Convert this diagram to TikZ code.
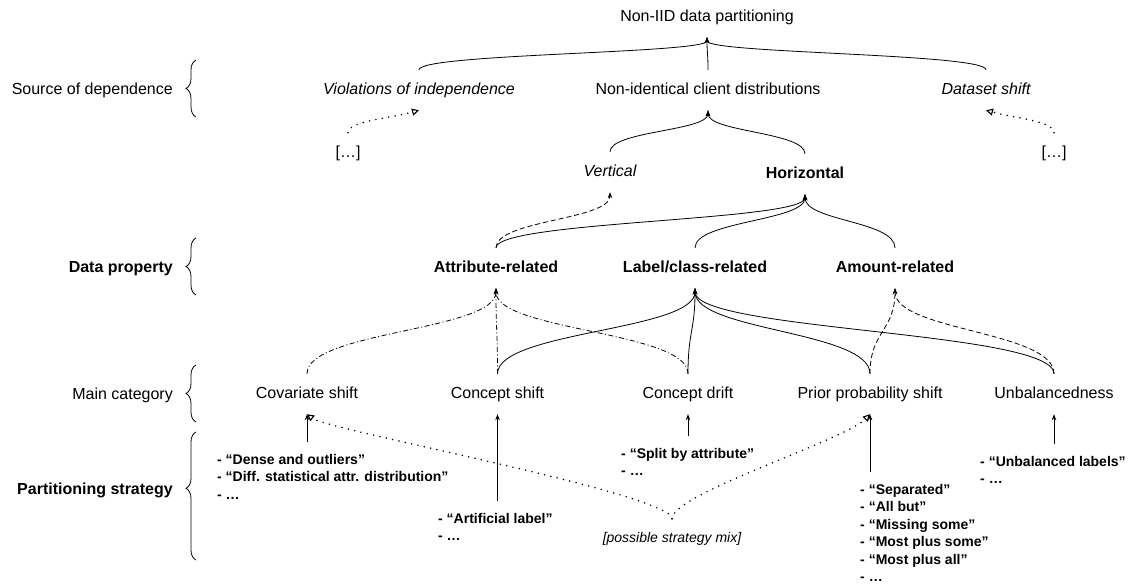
\documentclass[tikz,border=0pt]{standalone}
\usepackage{fontspec}
\setmainfont{Liberation Sans}
\usetikzlibrary{arrows.meta,calc,decorations.pathreplacing}

\begin{document}
\begin{tikzpicture}[x=1pt,y=-1pt,
  every node/.style={inner sep=0pt},
  item/.style={font=\fontsize{16}{19}\selectfont, minimum height=40pt, text height=11.5pt, text depth=3.4pt},
  itl/.style={item, font=\itshape\fontsize{16}{19}\selectfont},
  bld/.style={item, font=\bfseries\fontsize{16}{19}\selectfont},
  lst/.style={font=\bfseries\fontsize{14}{17.5}\selectfont, align=left, outer ysep=12pt, anchor=north west},
  curvy/.style={to path={.. controls ($(\tikztostart)!0.5!(\tikztostart|-\tikztotarget)$) and ($(\tikztotarget)!0.5!(\tikztotarget|-\tikztostart)$) .. (\tikztotarget) \tikztonodes}},
  arr/.style={line width=0.8pt, -{Stealth[length=6pt,width=4.5pt]}},
  link/.style={arr, curvy},
  dashlink/.style={link, dash pattern=on 5pt off 3pt},
  dshdot/.style={link, dash pattern=on 5pt off 2.5pt on 1pt off 2.5pt},
  hint/.style={line width=1.7pt, line cap=round, dash pattern=on 0pt off 6.5pt,
    -{Triangle[open,length=7pt,width=7pt,line width=1.1pt]}},
  brc/.style={decorate, decoration={brace, amplitude=10pt}, line width=0.8pt},
]
\useasboundingbox (0,0) rectangle (1131,584);

% level labels and braces
\node[item, anchor=east] (lsrc) at (173,90) {Source of dependence};
\node[bld, anchor=east] (lprop) at (173,268) {Data property};
\node[item, anchor=east] (lcat) at (173,395) {Main category};
\node[bld, anchor=east] (lstrat) at (173,490) {Partitioning strategy};
\draw[brc] (196,117) -- (196,60);
\draw[brc] (196,295) -- (196,238);
\draw[brc] (196,422) -- (196,365);
\draw[brc, decoration={aspect=0.56}] (196,560) -- (196,432);

% tree nodes
\node[item] (top) at (707,17) {Non-IID data partitioning};
\node[itl] (viol) at (419,90) {Violations of independence};
\node[item] (nonid) at (708,90) {Non-identical client distributions};
\node[itl] (dshift) at (986,90) {Dataset shift};
\node[item] (ldots) at (348,153) {[…]};
\node[item] (rdots) at (1054,153) {[…]};
\node[itl] (vert) at (610,172) {Vertical};
\node[bld] (horiz) at (805,174) {Horizontal};
\node[bld] (attr) at (496,268) {Attribute-related};
\node[bld] (label) at (695,268) {Label/class-related};
\node[bld] (amount) at (895,268) {Amount-related};
\node[item] (cov) at (307,394) {Covariate shift};
\node[item] (cshift) at (497.5,394) {Concept shift};
\node[item] (cdrift) at (688,394) {Concept drift};
\node[item] (prior) at (870,394) {Prior probability shift};
\node[item] (unbal) at (1054,394) {Unbalancedness};

% partitioning strategies
\node[lst] (covlist) at (217,442) {- “Dense and outliers”\\- “Diff. statistical attr. distribution”\\- …};
\node[lst] (cshiftlist) at (438,501) {- “Artificial label”\\- …};
\node[lst] (cdriftlist) at (621,436) {- “Split by attribute”\\- …};
\node[lst] (priorlist) at (860,472) {- “Separated”\\- “All but”\\- “Missing some”\\- “Most plus some”\\- “Most plus all”\\- …};
\node[lst] (unballist) at (980,444) {- “Unbalanced labels”\\- …};
\node[font=\itshape\fontsize{14}{17}\selectfont, minimum height=40pt, text height=10pt, text depth=3pt] (mix) at (672,539) {[possible strategy mix]};

% source of dependence
\draw[link] (viol.north) to (top.south);
\draw[link] (nonid.north) to (top.south);
\draw[link] (dshift.north) to (top.south);
\draw[hint] (ldots.north) .. controls +(0,-12) and +(-28,8) .. (viol.south);
\draw[hint] (rdots.north) .. controls +(0,-12) and +(28,8) .. (dshift.south);

% vertical / horizontal
\draw[link] (vert.north) to (nonid.south);
\draw[link] (horiz.north) to (nonid.south);

% data properties
\draw[dashlink] (attr.north) to (vert.south);
\draw[link] (attr.north) to (horiz.south);
\draw[link] (label.north) to (horiz.south);
\draw[link] (amount.north) to (horiz.south);

% main categories
\draw[dshdot] (cov.north) to (attr.south);
\draw[dshdot] (cshift.north) to (attr.south);
\draw[link] (cshift.north) to (label.south);
\draw[dshdot] (cdrift.north) to (attr.south);
\draw[link] (cdrift.north) to (label.south);
\draw[link] (prior.north) to (label.south);
\draw[dashlink] (prior.north) to (amount.south);
\draw[link] (unbal.north) to (label.south);
\draw[dashlink] (unbal.north) to (amount.south);

% strategies to categories
\draw[arr] (covlist.north -| cov.south) -- (cov.south);
\draw[arr] (cshiftlist.north -| cshift.south) -- (cshift.south);
\draw[arr] (cdriftlist.north -| cdrift.south) -- (cdrift.south);
\draw[arr] (priorlist.north -| prior.south) -- (prior.south);
\draw[arr] (unballist.north -| unbal.south) -- (unbal.south);
\draw[hint] (mix.north) .. controls +(0,-25) and +(21,16) .. (cov.south);
\draw[hint] (mix.north) .. controls +(0,-25) and +(-25,26) .. (prior.south);
\end{tikzpicture}
\end{document}
